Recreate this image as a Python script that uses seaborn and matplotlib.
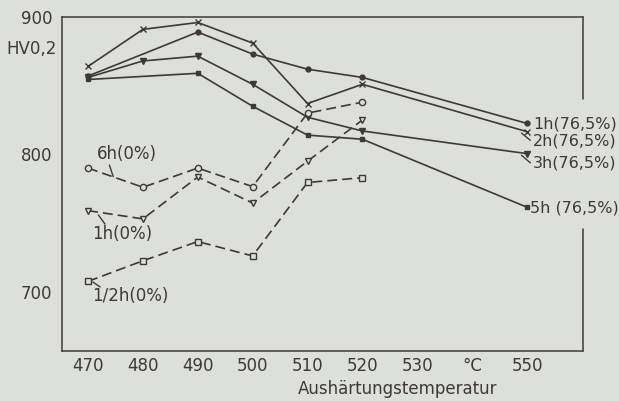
import matplotlib
matplotlib.use("Agg")
import matplotlib.pyplot as plt
import seaborn as sns
import pandas as pd

# ---- data ----
temps_1h = [470, 490, 500, 510, 520, 550]
hv_1h = [857, 889, 873, 862, 856, 822.5]

temps_2h = [470, 480, 490, 500, 510, 520, 550]
hv_2h = [864, 891, 896, 881, 837, 851, 816.5]

temps_3h = [470, 480, 490, 500, 510, 520, 550]
hv_3h = [856, 868, 871.5, 851, 827, 817, 800.5]

temps_5h = [470, 490, 500, 510, 520, 550]
hv_5h = [854.5, 859, 835, 814, 811, 761.5]

temps_6h0 = [470, 480, 490, 500, 510, 520]
hv_6h0 = [790, 776, 790, 776.5, 830, 838]

temps_1h0 = [470, 480, 490, 500, 510, 520]
hv_1h0 = [759, 753, 783.5, 764.5, 795, 825]

temps_half0 = [470, 480, 490, 500, 510, 520]
hv_half0 = [707.5, 722.5, 736.5, 726, 779.5, 783]

x_ticks = [470, 480, 490, 500, 510, 520, 530, 540, 550]
x_ticklabels = ["470", "480", "490", "500", "510", "520", "530", "°C", "550"]
y_ticks = [700, 800, 900]
y_ticklabels = ["700", "800", "900"]

BG = "#dcdfdb"
INK = "#3f3838"

sns.set_theme(style="white")
plt.rcParams["font.family"] = ["DejaVu Sans"]

fig = plt.figure(figsize=(6.19, 4.01), dpi=100, facecolor=BG)
ax = fig.add_axes([62 / 619, 1 - 351 / 401, (583 - 62) / 619, (351 - 17) / 401])
ax.set_facecolor(BG)

lw = 1.2
dash = (0, (6, 3))

series = [
    (temps_1h, hv_1h, "o", INK, "-", 3.5),
    (temps_2h, hv_2h, "x", INK, "-", 4.5),
    (temps_3h, hv_3h, "v", INK, "-", 4),
    (temps_5h, hv_5h, "s", INK, "-", 3.5),
    (temps_6h0, hv_6h0, "o", "none", dash, 4.5),
    (temps_1h0, hv_1h0, "v", "none", dash, 5),
    (temps_half0, hv_half0, "s", "none", dash, 4),
]
for xs, ys, mk, mfc, ls, ms in series:
    df = pd.DataFrame({"T": xs, "HV": ys})
    sns.lineplot(data=df, x="T", y="HV", ax=ax, color=INK, linewidth=lw,
                 linestyle=ls, marker=mk, markersize=ms,
                 markerfacecolor=(INK if mfc != "none" else BG),
                 markeredgecolor=INK, markeredgewidth=1.0, sort=False)

ax.set_xlim(465.26, 560.2)
ax.set_ylim(656.8, 900)
ax.set_xticks(x_ticks)
ax.set_xticklabels(x_ticklabels)
ax.set_yticks(y_ticks)
ax.set_yticklabels(y_ticklabels)
ax.set_xlabel("")
ax.set_ylabel("")
ax.tick_params(axis="x", direction="in", length=14, width=1.0, color=INK,
               labelsize=12, labelcolor=INK, pad=4)
ax.tick_params(axis="y", direction="in", length=12, width=1.0, color=INK,
               labelsize=12, labelcolor=INK, pad=7)
ax.yaxis.get_major_ticks()[-1].tick1line.set_visible(False)

for s in ["left", "bottom", "top"]:
    ax.spines[s].set_color(INK)
    ax.spines[s].set_linewidth(1.1)
ax.spines["right"].set_visible(False)
# broken right frame
ax.plot([1, 1], [0.7545, 1.0], transform=ax.transAxes, color=INK, lw=1.1, clip_on=False)
ax.plot([1, 1], [0.0, 0.365], transform=ax.transAxes, color=INK, lw=1.1, clip_on=False)

fs = 12
# left labels
ax.text(471.6, 800.5, "6h(0%)", fontsize=fs, color=INK, va="center", ha="left")
ax.plot([473.9, 474.6], [792.2, 783.7], color=INK, lw=1.0)
ax.text(470.7, 742, "1h(0%)", fontsize=fs, color=INK, va="center", ha="left")
ax.plot([471.9, 473.1], [755.8, 749.2], color=INK, lw=1.0)
ax.text(470.7, 696.5, "1/2h(0%)", fontsize=fs, color=INK, va="center", ha="left")
ax.plot([470.9, 472.2], [707, 703.4], color=INK, lw=1.0)

# right labels
rfs = 11.5
ax.text(551.1, 822, "1h(76,5%)", fontsize=rfs, color=INK, va="center", ha="left", clip_on=False)
ax.text(551.1, 809.7, "2h(76,5%)", fontsize=rfs, color=INK, va="center", ha="left", clip_on=False)
ax.plot([549.0, 550.6], [815.5, 810.2], color=INK, lw=1.0, clip_on=False)
ax.text(551.1, 793.4, "3h(76,5%)", fontsize=rfs, color=INK, va="center", ha="left", clip_on=False)
ax.plot([549.0, 550.6], [799.3, 793.8], color=INK, lw=1.0, clip_on=False)
ax.text(550.5, 760.7, "5h (76,5%)", fontsize=rfs, color=INK, va="center", ha="left", clip_on=False)

fig.text(57 / 619, 1 - 49 / 401, "HV0,2", fontsize=fs, color=INK, ha="right", va="center")
fig.text(398 / 619, 1 - 389 / 401, "Aushärtungstemperatur", fontsize=fs, color=INK,
         ha="center", va="center")

fig.savefig("out.png", dpi=100, facecolor=BG)
